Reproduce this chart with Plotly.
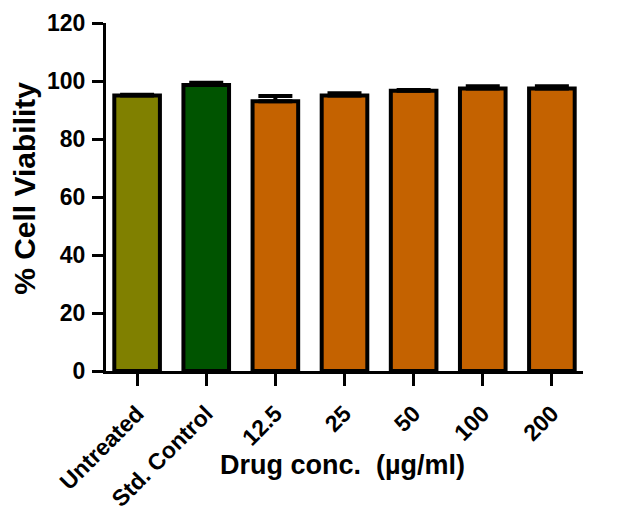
import plotly.graph_objects as go

# data
groups = ["Untreated", "Std. Control", "12.5", "25", "50", "100", "200"]
viability = [95.0, 98.6, 93.0, 95.0, 96.6, 97.4, 97.4]
sem = [0.3, 0.8, 1.8, 0.8, 0.3, 0.8, 0.8]
bar_colors = ["#808000", "#005400", "#C46200", "#C46200", "#C46200", "#C46200", "#C46200"]

font_fam = "Arial, Liberation Sans, sans-serif"

fig = go.Figure()
fig.add_trace(go.Bar(
    x=groups, y=viability,
    marker=dict(color=bar_colors, line=dict(color="black", width=4)),
    width=0.66,
    error_y=dict(type="data", array=sem, arrayminus=[0] * len(sem), symmetric=False,
                 color="black", thickness=4, width=17),
))

fig.update_layout(
    width=621, height=513,
    margin=dict(l=98, r=46, t=15, b=150, autoexpand=False),
    plot_bgcolor="white", paper_bgcolor="white",
    showlegend=False,
    font=dict(family=font_fam, color="black"),
)
fig.update_yaxes(
    range=[0, 120], dtick=20,
    showline=True, linecolor="black", linewidth=3,
    ticks="outside", ticklen=11, tickwidth=3, tickcolor="black",
    showgrid=False, zeroline=False, ticklabelstandoff=2,
    tickfont=dict(size=23, family=font_fam, weight="bold"),
)
fig.update_xaxes(
    range=[-0.45, 6.45],
    showline=True, linecolor="black", linewidth=3,
    ticks="outside", ticklen=12, tickwidth=3, tickcolor="black",
    tickangle=-45, ticklabelstandoff=5,
    tickfont=dict(size=23, family=font_fam, weight="bold"),
)

# axis titles as annotations so they sit where the reference has them
fig.add_annotation(text="% Cell Viability", xref="paper", yref="paper", x=-0.17, y=0.526,
                   xanchor="center", yanchor="middle", textangle=-90, showarrow=False,
                   font=dict(size=30, family=font_fam, weight="bold", color="black"))
fig.add_annotation(text="Drug conc.  (µg/ml)", xref="paper", yref="paper", x=0.495, y=-0.27,
                   xanchor="center", yanchor="middle", showarrow=False,
                   font=dict(size=27, family=font_fam, weight="bold", color="black"))

fig.write_html("out.html")
